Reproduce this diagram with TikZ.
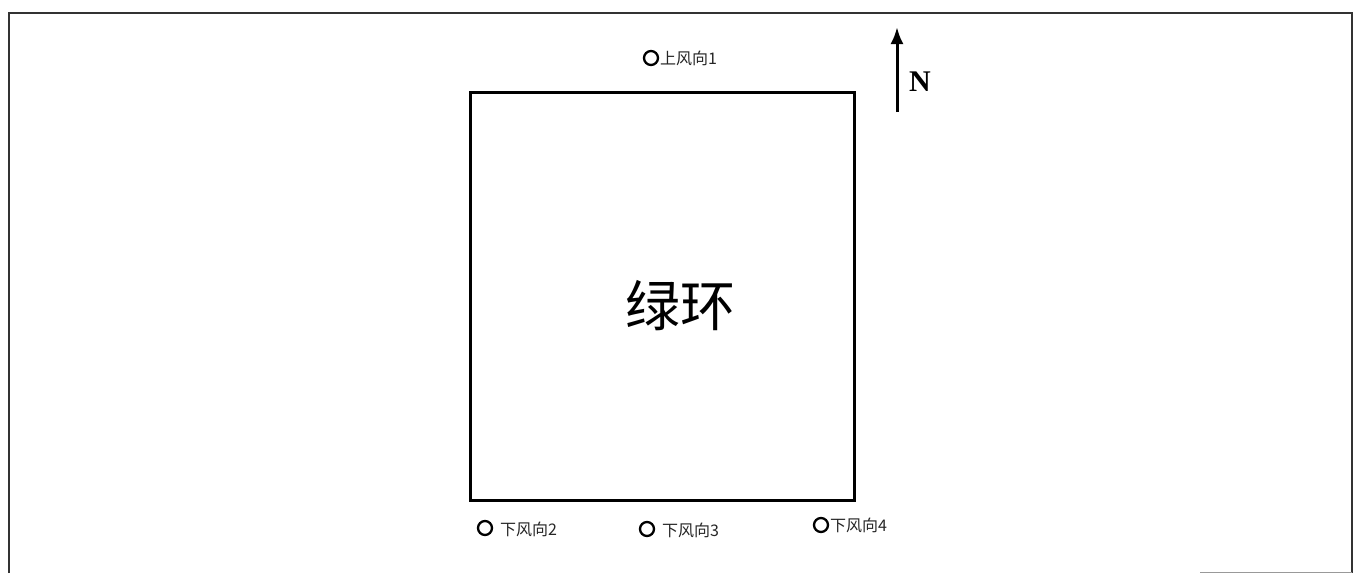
\documentclass[tikz,border=0pt]{standalone}
\usepackage{fontspec}
\newfontfamily\cjk{Noto Sans CJK SC}
\setmainfont{Liberation Serif}
\usetikzlibrary{arrows.meta}
\begin{document}
\begin{tikzpicture}[x=1pt,y=-1pt,
  pt/.style={circle,draw=black,line width=2.3pt,minimum size=14pt,inner sep=0pt},
  lbl/.style={anchor=west,inner sep=0pt,font=\cjk\fontsize{16}{16}\selectfont,text=black!85}]
\useasboundingbox (0,0) rectangle (1354,573);
\fill[white] (0,0) rectangle (1354,573);
\draw[line width=1.5pt,black!80] (9,573) -- (9,13) -- (1352,13) -- (1352,573);
\draw[line width=1pt,black!40] (1200,572) -- (1352,572);
\node[draw=black,line width=3pt,minimum width=384pt,minimum height=408pt,inner sep=0pt] (box) at (662,296) {};
\node[font=\cjk\fontsize{55}{55}\selectfont] (lbl0) at (680,306) {绿环};
\node[pt] (p1) at (651,58) {};
\node[lbl] (t1) at (660,58) {上风向1};
\node[pt] (p2) at (485,528) {};
\node[lbl] (t2) at (500,529) {下风向2};
\node[pt] (p3) at (647,529) {};
\node[lbl] (t3) at (662,530) {下风向3};
\node[pt] (p4) at (821,525) {};
\node[lbl] (t4) at (830,525) {下风向4};
\coordinate (a0) at (897,112);
\coordinate (a1) at (897,27);
\draw[line width=3pt,-{Latex[length=17pt,width=13pt]}] (a0) -- (a1);
\node[font=\bfseries\fontsize{30}{30}\selectfont] (N) at (920,82) {N};
\end{tikzpicture}
\end{document}
